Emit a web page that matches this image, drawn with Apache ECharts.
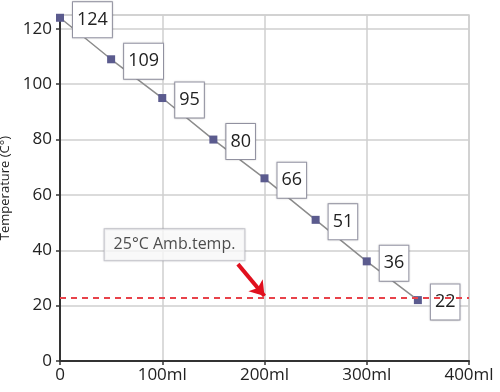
<!DOCTYPE html>
<html>
<head>
<meta charset="utf-8">
<script src="https://cdn.jsdelivr.net/npm/echarts@6/dist/echarts.min.js"></script>
<style>
  html, body { margin: 0; padding: 0; background: #fff; }
  #chart { width: 500px; height: 392px; }
</style>
</head>
<body>
<div id="chart"></div>
<script>
// volumes (ml) and measured temperatures
var volumes = [0, 50, 100, 150, 200, 250, 300, 350];
var temps = [124, 109, 95, 80, 66, 51, 36, 22];
var xTicks = [0, 100, 200, 300, 400];
var yTicks = [0, 20, 40, 60, 80, 100, 120];
var ambientLine = 23;
var noteText = '25°C Amb.temp.';
var notePos = [112, 42];
var arrowFrom = [174, 35];
var arrowTo = [200, 23.5];

var pts = [];
for (var i = 0; i < volumes.length; i++) {
    pts.push([volumes[i], temps[i]]);
}

var myChart = echarts.init(document.getElementById('chart'));
var font = 'Open Sans';
var option = {
    animation: false,
    grid: {
        left: 60, right: 31, top: 15, bottom: 31,
        outerBoundsMode: 'none',
        containLabel: false,
        show: true,
        borderColor: '#cfcfcf',
        borderWidth: 1.5
    },
    xAxis: {
        type: 'value',
        min: xTicks[0],
        max: xTicks[xTicks.length - 1],
        interval: 100,
        axisLine: { lineStyle: { color: '#333', width: 2 } },
        axisTick: { show: true, length: 4, lineStyle: { color: '#333', width: 1.5 } },
        splitLine: { show: true, lineStyle: { color: '#cfcfcf', width: 1.5 } },
        axisLabel: {
            color: '#222', fontSize: 17, fontFamily: font, margin: 6,
            formatter: function (v) { return v === 0 ? '0' : v + 'ml'; }
        }
    },
    yAxis: {
        type: 'value',
        min: yTicks[0],
        max: 125,
        interval: 20,
        name: 'Temperature (C°)',
        nameLocation: 'middle',
        nameGap: 45,
        nameTextStyle: { color: '#222', fontSize: 13, fontFamily: font },
        axisLine: { show: true, lineStyle: { color: '#333', width: 2 } },
        axisTick: { show: true, length: 4, lineStyle: { color: '#333', width: 1.5 } },
        splitLine: { show: true, lineStyle: { color: '#cfcfcf', width: 1.5 } },
        axisLabel: {
            color: '#222', fontSize: 17, fontFamily: font, margin: 8,
            showMaxLabel: false,
            formatter: function (v) { return yTicks.indexOf(v) >= 0 ? String(v) : ''; }
        }
    },
    series: [
        {
            type: 'line',
            data: pts,
            symbol: 'rect',
            symbolSize: 8,
            itemStyle: { color: '#5b5b8e' },
            lineStyle: { color: '#8c8c8c', width: 1.5 },
            label: {
                show: true,
                position: 'right',
                distance: 9,
                offset: [0, 2],
                color: '#222',
                fontSize: 18,
                fontFamily: font,
                backgroundColor: '#fff',
                borderColor: '#9b9bab',
                borderWidth: 1,
                padding: [9, 4, 8, 4],
                shadowBlur: 2,
                shadowColor: 'rgba(0,0,0,0.2)'
            },
            markLine: {
                silent: true,
                symbol: ['none', 'none'],
                label: { show: false },
                lineStyle: { color: '#e8424a', type: [6, 5], width: 2 },
                data: [{ yAxis: ambientLine }]
            },
            z: 3
        },
        {
            type: 'scatter',
            data: [notePos],
            symbolSize: 0,
            label: {
                show: true,
                position: 'inside',
                formatter: noteText,
                color: '#222',
                fontSize: 16,
                fontFamily: font,
                backgroundColor: '#fff',
                borderColor: '#bdbdc6',
                borderWidth: 1,
                padding: [8, 9, 7, 9],
                shadowBlur: 2,
                shadowColor: 'rgba(0,0,0,0.15)'
            },
            markLine: {
                silent: true,
                symbol: ['none', 'arrow'],
                symbolSize: 14,
                label: { show: false },
                lineStyle: { color: '#e0101e', width: 4, type: 'solid' },
                data: [[{ coord: arrowFrom }, { coord: arrowTo }]]
            },
            z: 5
        }
    ]
};
myChart.setOption(option);
</script>
</body>
</html>
